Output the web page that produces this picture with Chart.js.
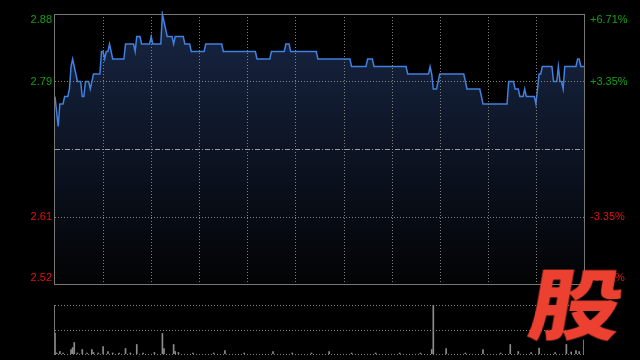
<!DOCTYPE html>
<html>
<head>
<meta charset="utf-8">
<script src="https://cdn.jsdelivr.net/npm/chart.js@4.4.1/dist/chart.umd.min.js"></script>
<style>
    html, body { margin: 0; padding: 0; background: #000; }
    body { width: 640px; height: 360px; position: relative; overflow: hidden; }
    #priceBox { position: absolute; left: 0; top: 0; width: 640px; height: 295px; }
    #volBox { position: absolute; left: 0; top: 295px; width: 640px; height: 65px; }
    #logo {
        position: absolute; left: 539px; top: 262px;
        font: 900 77px "Noto Sans CJK SC"; line-height: 1;
        color: #ec4130; transform: skewX(-10deg) scaleX(1.2);
    }
</style>
</head>
<body>
<div id="priceBox"><canvas id="priceChart"></canvas></div>
<div id="volBox"><canvas id="volChart"></canvas></div>
<div id="logo">股</div>

<script>
// one price per minute, 09:30-12:00 and 13:00-16:00 (331 points)
let prices = [
    2.77, 2.75, 2.73, 2.76, 2.76, 2.76, 2.77, 2.77, 2.77, 2.78,
    2.81, 2.82, 2.81, 2.80, 2.79, 2.79, 2.79, 2.77, 2.77, 2.79,
    2.79, 2.79, 2.78, 2.79, 2.80, 2.80, 2.80, 2.80, 2.80, 2.83,
    2.83, 2.82, 2.83, 2.83, 2.84, 2.83, 2.82, 2.82, 2.82, 2.82,
    2.82, 2.82, 2.82, 2.82, 2.84, 2.84, 2.84, 2.84, 2.84, 2.84,
    2.83, 2.85, 2.85, 2.85, 2.84, 2.84, 2.84, 2.84, 2.84, 2.84,
    2.85, 2.84, 2.84, 2.84, 2.84, 2.84, 2.84, 2.88, 2.87, 2.86,
    2.85, 2.85, 2.85, 2.85, 2.84, 2.85, 2.85, 2.85, 2.85, 2.85,
    2.85, 2.84, 2.84, 2.84, 2.84, 2.83, 2.83, 2.83, 2.83, 2.83,
    2.83, 2.83, 2.83, 2.83, 2.84, 2.84, 2.84, 2.84, 2.84, 2.84,
    2.84, 2.84, 2.84, 2.84, 2.84, 2.83, 2.83, 2.83, 2.83, 2.83,
    2.83, 2.83, 2.83, 2.83, 2.83, 2.83, 2.83, 2.83, 2.83, 2.83,
    2.83, 2.83, 2.83, 2.83, 2.83, 2.83, 2.82, 2.82, 2.82, 2.82,
    2.82, 2.82, 2.82, 2.82, 2.82, 2.83, 2.83, 2.83, 2.83, 2.83,
    2.83, 2.83, 2.83, 2.83, 2.84, 2.84, 2.84, 2.83, 2.83, 2.83,
    2.83, 2.83, 2.83, 2.83, 2.83, 2.83, 2.83, 2.83, 2.83, 2.83,
    2.83, 2.83, 2.83, 2.83, 2.82, 2.82, 2.82, 2.82, 2.82, 2.82,
    2.82, 2.82, 2.82, 2.82, 2.82, 2.82, 2.82, 2.82, 2.82, 2.82,
    2.82, 2.82, 2.82, 2.82, 2.82, 2.81, 2.81, 2.81, 2.81, 2.81,
    2.81, 2.81, 2.81, 2.81, 2.81, 2.82, 2.82, 2.82, 2.82, 2.81,
    2.81, 2.81, 2.81, 2.81, 2.81, 2.81, 2.81, 2.81, 2.81, 2.81,
    2.81, 2.81, 2.81, 2.81, 2.81, 2.81, 2.81, 2.81, 2.81, 2.81,
    2.80, 2.80, 2.80, 2.80, 2.80, 2.80, 2.80, 2.80, 2.80, 2.80,
    2.80, 2.80, 2.80, 2.80, 2.81, 2.80, 2.78, 2.78, 2.78, 2.79,
    2.80, 2.80, 2.80, 2.80, 2.80, 2.80, 2.80, 2.80, 2.80, 2.80,
    2.80, 2.80, 2.80, 2.80, 2.80, 2.80, 2.79, 2.78, 2.78, 2.78,
    2.78, 2.78, 2.78, 2.78, 2.78, 2.78, 2.77, 2.76, 2.76, 2.76,
    2.76, 2.76, 2.76, 2.76, 2.76, 2.76, 2.76, 2.76, 2.76, 2.76,
    2.76, 2.76, 2.76, 2.79, 2.79, 2.79, 2.79, 2.78, 2.78, 2.78,
    2.77, 2.77, 2.77, 2.78, 2.77, 2.77, 2.77, 2.77, 2.77, 2.77,
    2.76, 2.78, 2.80, 2.80, 2.81, 2.81, 2.81, 2.81, 2.81, 2.81,
    2.81, 2.79, 2.79, 2.79, 2.81, 2.79, 2.79, 2.78, 2.81, 2.81,
    2.81, 2.81, 2.81, 2.81, 2.81, 2.81, 2.82, 2.82, 2.81, 2.81,
    2.81
];

let prevClose = 2.70;
let priceTicks = [2.88, 2.79, 2.61, 2.52];
let pctTicks = ["+6.71%", "+3.35%", "-3.35%", "-6.71%"];
let halfHourMarks = [30, 60, 90, 120, 150, 180, 210, 240, 270, 300];
let lastMinute = 330;

// volume bars that stand out above the baseline (minute, volume)
let volMinutes = [0, 1, 3, 5, 10, 11, 12, 14, 17, 20, 23, 24, 27, 30, 33, 36, 40, 44, 47, 51, 55, 62, 67, 68, 74, 75, 77, 86, 99, 106, 118, 136, 148, 160, 171, 185, 200, 215, 228, 235, 236, 244, 256, 267, 278, 284, 289, 297, 302, 312, 319, 322, 325, 327, 330];
let volValues  = [210, 10, 25, 10, 45, 65, 115, 10, 45, 10, 45, 15, 10, 75, 25, 10, 10, 55, 10, 95, 10, 15, 205, 55, 95, 25, 15, 10, 10, 35, 10, 25, 10, 10, 25, 10, 10, 10, 10, 45, 490, 55, 10, 45, 10, 95, 25, 15, 60, 15, 95, 20, 35, 25, 140];
let volMax = 490;

const GREEN = "#14a014";
const RED = "#e31010";

function dashedLine(ctx, x1, y1, x2, y2) {
    ctx.beginPath();
    ctx.moveTo(x1, y1);
    ctx.lineTo(x2, y2);
    ctx.stroke();
}

const priceFrame = {
    id: "priceFrame",
    afterDatasetsDraw(chart) {
        let { ctx, chartArea: a, scales: { x, y } } = chart;
        ctx.save();
        ctx.lineWidth = 1;
        ctx.strokeStyle = "#808080";
        ctx.setLineDash([1, 2]);
        halfHourMarks.forEach(m => {
            let px = Math.round(x.getPixelForValue(m)) + 0.5;
            dashedLine(ctx, px, a.top, px, a.bottom);
        });
        priceTicks.slice(1, -1).forEach(v => {
            let py = Math.round(y.getPixelForValue(v)) + 0.5;
            dashedLine(ctx, a.left, py, a.right, py);
        });
        // previous close
        ctx.strokeStyle = "#9a9a9a";
        ctx.setLineDash([5, 2, 1, 2]);
        let pc = Math.round(y.getPixelForValue(prevClose)) + 0.5;
        dashedLine(ctx, a.left, pc, a.right, pc);

        // frame
        ctx.setLineDash([]);
        ctx.strokeStyle = "#777";
        ctx.strokeRect(a.left - 0.5, a.top + 0.5, a.right - a.left + 1, a.bottom - a.top);

        // axis labels
        ctx.font = "11px 'Liberation Sans'";
        ctx.textBaseline = "middle";
        priceTicks.forEach((v, i) => {
            let py = y.getPixelForValue(v);
            py = Math.min(Math.max(py, a.top + 6), a.bottom - 6);
            ctx.fillStyle = v > prevClose ? GREEN : RED;
            ctx.textAlign = "right";
            ctx.fillText(v.toFixed(2), a.left - 3, py);
            ctx.textAlign = "left";
            ctx.fillText(pctTicks[i], a.right + 6, py);
        });
        ctx.restore();
    }
};

const volFrame = {
    id: "volFrame",
    afterDatasetsDraw(chart) {
        let { ctx, chartArea: a, scales: { y } } = chart;
        ctx.save();
        ctx.lineWidth = 1;
        ctx.strokeStyle = "#808080";
        ctx.setLineDash([1, 2]);
        [volMax, volMax / 2, 0].forEach(v => {
            let py = Math.round(y.getPixelForValue(v)) + 0.5;
            dashedLine(ctx, a.left, py, a.right, py);
        });
        ctx.setLineDash([]);
        ctx.strokeStyle = "#777";
        dashedLine(ctx, a.left - 0.5, a.top, a.left - 0.5, a.bottom + 1);
        ctx.restore();
    }
};

new Chart(document.getElementById("priceChart"), {
    type: "line",
    data: {
        datasets: [{
            data: prices.map((p, i) => ({ x: i, y: p })),
            borderColor: "#3f80e0",
            borderWidth: 1.5,
            pointRadius: 0,
            tension: 0,
            fill: "start",
            clip: 3,
            backgroundColor: (context) => {
                let { ctx, chartArea } = context.chart;
                if (!chartArea) return null;
                let g = ctx.createLinearGradient(0, chartArea.top, 0, chartArea.bottom);
                g.addColorStop(0, "#182644");
                g.addColorStop(1, "#020304");
                return g;
            }
        }]
    },
    options: {
        animation: false,
        responsive: true,
        maintainAspectRatio: false,
        layout: { padding: { left: 55, right: 56, top: 14, bottom: 11 } },
        plugins: { legend: { display: false }, tooltip: { enabled: false } },
        scales: {
            x: { type: "linear", min: 0, max: lastMinute, display: false },
            y: { min: priceTicks[priceTicks.length - 1], max: priceTicks[0], display: false }
        }
    },
    plugins: [priceFrame]
});

new Chart(document.getElementById("volChart"), {
    type: "bar",
    data: {
        datasets: [{
            data: volMinutes.map((m, i) => ({ x: m, y: volValues[i] })),
            backgroundColor: "#8c8c8c",
            barThickness: 1
        }]
    },
    options: {
        animation: false,
        responsive: true,
        maintainAspectRatio: false,
        layout: { padding: { left: 55, right: 56, top: 10, bottom: 6 } },
        plugins: { legend: { display: false }, tooltip: { enabled: false } },
        scales: {
            x: { type: "linear", min: 0, max: lastMinute, display: false, offset: false },
            y: { min: 0, max: volMax, display: false }
        }
    },
    plugins: [volFrame]
});
</script>
</body>
</html>
